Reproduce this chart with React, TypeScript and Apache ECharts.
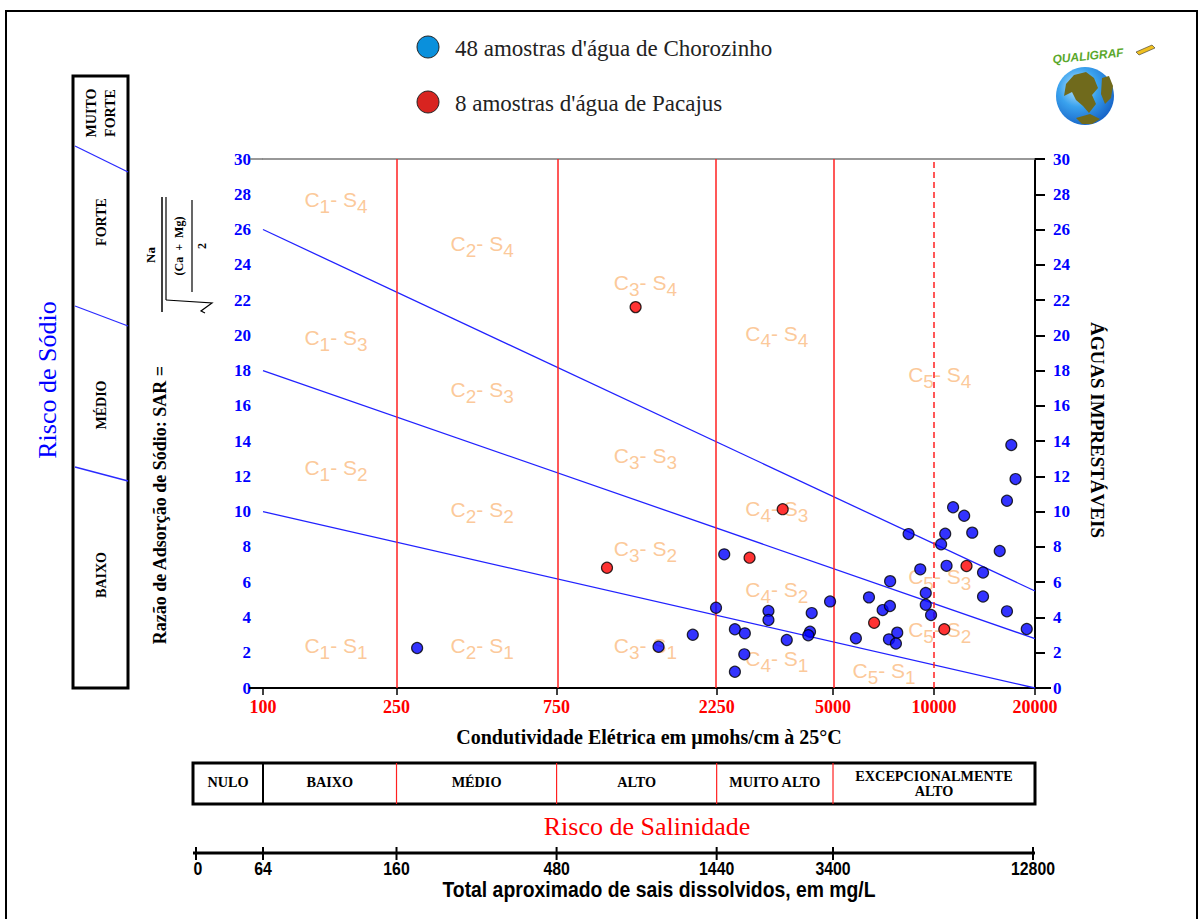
import React, { useEffect, useRef } from "react";
import * as echarts from "echarts";

// ---------- data ----------
const EC_MIN = 100;
const EC_MAX = 20000;
const xTickValues = [100, 250, 750, 2250, 5000, 10000, 20000];
const salinityLimits = [250, 750, 2250, 5000];
const salinityDashed = [10000];

// sodium hazard boundary lines: SAR at EC = 100 and at EC = 20000
const sodiumLineStart = [26, 18, 10];
const sodiumLineEnd = [5.5, 2.8, 0];

const chorozinhoEC = [17000, 17500, 16500, 11400, 12300, 8400, 10800, 13000, 10500, 15700, 10900, 14000, 9100, 7400, 9450, 9450, 9800, 14000, 16500, 18900, 6400, 4900, 4320, 4270, 4220, 3640, 5850, 7030, 7390, 7340, 7770, 7700, 2370, 2240, 2550, 2730, 3210, 3210, 1910, 1510, 2720, 2550, 288];
const chorozinhoSAR = [13.78, 11.85, 10.62, 10.25, 9.77, 8.73, 8.75, 8.81, 8.15, 7.77, 6.93, 6.55, 6.73, 6.06, 5.39, 4.72, 4.14, 5.19, 4.35, 3.35, 5.14, 4.91, 4.25, 3.19, 2.99, 2.72, 2.82, 4.42, 4.65, 2.76, 3.14, 2.52, 7.58, 4.55, 3.33, 3.1, 4.37, 3.86, 3.02, 2.34, 1.91, 0.92, 2.27];

const pacajusEC = [1290, 1060, 2820, 3540, 12500, 6630, 10730];
const pacajusSAR = [21.6, 6.82, 7.39, 10.14, 6.92, 3.7, 3.33];

const zoneC = [1, 2, 3, 4, 5, 1, 2, 3, 4, 5, 1, 2, 3, 4, 5, 1, 2, 3, 4, 5];
const zoneS = [4, 4, 4, 4, 4, 3, 3, 3, 3, 3, 2, 2, 2, 2, 2, 1, 1, 1, 1, 1];
const zoneEC = [165, 450, 1380, 3400, 10400, 165, 450, 1380, 3400, 10400, 165, 450, 1380, 3400, 10400, 165, 450, 1380, 3400, 7100];
const zoneSAR = [27.7, 25.2, 23.0, 20.1, 17.8, 19.9, 16.9, 13.2, 10.2, 6.3, 12.5, 10.1, 7.9, 5.6, 3.3, 2.4, 2.4, 2.4, 1.7, 1.0];

const salinityClasses = ["NULO", "BAIXO", "MÉDIO", "ALTO", "MUITO ALTO", "EXCEPCIONALMENTE\nALTO"];
const tdsLabels = ["0", "64", "160", "480", "1440", "3400", "12800"];
const tdsAtEC = [0, 100, 250, 750, 2250, 5000, 20000];

const legendLabels = ["48 amostras d'água de Chorozinho", "8 amostras d'água de Pacajus"];

const SERIF = "Liberation Serif";
const SANS = "Liberation Sans";
const ORANGE = "#fbbb80";

function txt(text: string, x: number, y: number, o: any = {}) {
  return {
    type: "text",
    x,
    y,
    rotation: o.rot || 0,
    scaleX: o.sx || 1,
    z: 50,
    style: {
      text,
      fill: o.fill || "#000",
      fontSize: o.size || 14,
      fontFamily: o.family || SERIF,
      fontWeight: o.weight || "normal",
      fontStyle: o.style || "normal",
      align: o.align || "center",
      verticalAlign: "middle",
      lineHeight: o.lh || undefined,
    },
  };
}
function ln(x1: number, y1: number, x2: number, y2: number, stroke: string, w: number, dash?: any) {
  return {
    type: "line",
    z: 50,
    shape: { x1, y1, x2, y2 },
    style: { stroke, lineWidth: w, lineDash: dash || null },
  };
}

export default function App() {
  const ref = useRef<HTMLDivElement>(null);
  useEffect(() => {
    if (!ref.current) return;
    const chart = echarts.init(ref.current, null, { renderer: "svg" });
    const lx = (v: number) => Math.log10(v);
    const xMin = lx(EC_MIN);
    const xMax = lx(EC_MAX);

    const lineSeries: any[] = sodiumLineStart.map((s, i) => ({
      type: "line",
      data: [
        [xMin, s],
        [xMax, sodiumLineEnd[i]],
      ],
      symbol: "none",
      lineStyle: { color: "#2222ff", width: 1.3 },
      z: 2,
      silent: true,
    }));
    lineSeries[0].markLine = {
      silent: true,
      symbol: ["none", "none"],
      label: { show: false },
      lineStyle: { color: "#ff2020", width: 1.5, type: "solid" },
      data: salinityLimits.map((v) => ({ xAxis: lx(v) })),
    };
    lineSeries[1].markLine = {
      silent: true,
      symbol: ["none", "none"],
      label: { show: false },
      lineStyle: { color: "#ff2020", width: 1.5, type: [6, 4] },
      data: salinityDashed.map((v) => ({ xAxis: lx(v) })),
    };

    const axisLabelFont = { fontFamily: SERIF, fontWeight: "bold", fontSize: 17 };

    const option: any = {
      animation: false,
      backgroundColor: "#fff",
      grid: { left: 263, right: 167, top: 159, bottom: 231, outerBoundsMode: "none" },
      xAxis: [
        {
          type: "value",
          min: xMin,
          max: xMax,
          position: "bottom",
          splitLine: { show: false },
          axisLine: { show: true, onZero: false, lineStyle: { color: "#000", width: 2 } },
          axisTick: { show: true, length: 7, lineStyle: { color: "#000", width: 1.5 }, customValues: xTickValues.map(lx) },
          axisLabel: {
            ...axisLabelFont,
            fontSize: 18,
            color: "#ff0000",
            margin: 10,
            customValues: xTickValues.map(lx),
            formatter: (v: number) => String(Math.round(Math.pow(10, v))),
          },
          name: "Condutividade Elétrica em µmohs/cm à 25°C",
          nameLocation: "middle",
          nameGap: 39,
          nameTextStyle: { fontFamily: SERIF, fontWeight: "bold", fontSize: 20, color: "#000" },
        },
        {
          type: "value",
          min: xMin,
          max: xMax,
          position: "top",
          splitLine: { show: false },
          axisLine: { show: true, onZero: false, lineStyle: { color: "#777", width: 1.5 } },
          axisTick: { show: false },
          axisLabel: { show: false },
        },
      ],
      yAxis: [
        {
          type: "value",
          min: 0,
          max: 30,
          interval: 2,
          position: "left",
          splitLine: { show: false },
          axisLine: { show: false },
          axisTick: { show: false },
          axisLabel: { ...axisLabelFont, color: "#0000ff", margin: 12 },
        },
        {
          type: "value",
          min: 0,
          max: 30,
          interval: 2,
          position: "right",
          splitLine: { show: false },
          axisLine: { show: true, onZero: false, lineStyle: { color: "#000", width: 2 } },
          axisTick: { show: true, inside: false, length: 10, lineStyle: { color: "#000", width: 2 } },
          axisLabel: { ...axisLabelFont, color: "#0000ff", margin: 18 },
        },
      ],
      series: [
        ...lineSeries,
        {
          type: "scatter",
          z: 1,
          silent: true,
          symbolSize: 1,
          itemStyle: { color: "rgba(0,0,0,0)" },
          data: zoneEC.map((e, i) => [lx(e), zoneSAR[i], zoneC[i], zoneS[i]]),
          label: {
            show: true,
            position: "inside",
            formatter: (p: any) => `{c|C}{s|${p.data[2]}}{c|- S}{s|${p.data[3]}}`,
            rich: {
              c: { fontSize: 21, fontFamily: SANS, color: ORANGE },
              s: { fontSize: 19, fontFamily: SANS, color: ORANGE, padding: [14, 0, 0, 0] },
            },
          },
        },
        {
          type: "scatter",
          name: legendLabels[0],
          z: 5,
          symbolSize: 11,
          itemStyle: { color: "#0000ff", borderColor: "#000", borderWidth: 1.2 },
          data: chorozinhoEC.map((e, i) => [lx(e), chorozinhoSAR[i]]),
        },
        {
          type: "scatter",
          name: legendLabels[1],
          z: 6,
          symbolSize: 11,
          itemStyle: { color: "#ff0000", borderColor: "#000", borderWidth: 1.2 },
          data: pacajusEC.map((e, i) => [lx(e), pacajusSAR[i]]),
        },
      ],
    };
    chart.setOption(option);

    const px = (v: number) => chart.convertToPixel({ xAxisIndex: 0 }, lx(v)) as number;
    const tableL = 193;
    const tableR = px(EC_MAX);
    const bounds = [tableL, px(100), ...salinityLimits.map(px), tableR];

    const g: any[] = [];
    // outer frame
    g.push({ type: "rect", z: 40, shape: { x: 6, y: 11, width: 1191, height: 930 }, style: { fill: "none", stroke: "#000", lineWidth: 2 } });

    // axis line overhangs
    g.push(ln(249, 688, px(EC_MIN), 688, "#000", 2));
    g.push(ln(tableR, 688, tableR + 16, 688, "#000", 2));
    g.push(ln(250, 159, px(EC_MIN), 159, "#777", 1.5));

    // legend
    g.push({ type: "circle", z: 50, shape: { cx: 428, cy: 47, r: 11 }, style: { fill: "#0a90dc", stroke: "#222", lineWidth: 1 } });
    g.push({ type: "circle", z: 50, shape: { cx: 428, cy: 102, r: 11 }, style: { fill: "#d82420", stroke: "#222", lineWidth: 1 } });
    g.push(txt(legendLabels[0], 455, 48, { size: 23, align: "left", fill: "#222" }));
    g.push(txt(legendLabels[1], 455, 103, { size: 23, align: "left", fill: "#222" }));

    // logo
    g.push({
      type: "circle",
      z: 50,
      shape: { cx: 1085, cy: 96, r: 29 },
      style: {
        fill: new echarts.graphic.RadialGradient(0.38, 0.35, 0.75, [
          { offset: 0, color: "#c8ecff" },
          { offset: 0.45, color: "#3aa2ee" },
          { offset: 1, color: "#1058c0" },
        ]),
      },
    });
    g.push({ type: "polygon", z: 51, shape: { points: [[1066, 84], [1074, 75], [1086, 72], [1094, 78], [1098, 88], [1092, 95], [1096, 104], [1089, 113], [1083, 106], [1076, 100], [1072, 92], [1064, 96]] }, style: { fill: "#706a1c" } });
    g.push({ type: "polygon", z: 51, shape: { points: [[1102, 78], [1109, 76], [1113, 86], [1111, 98], [1105, 104], [1101, 94]] }, style: { fill: "#706a1c" } });
    g.push({ type: "polygon", z: 51, shape: { points: [[1076, 118], [1090, 114], [1100, 119], [1092, 124], [1082, 124]] }, style: { fill: "#706a1c" } });
    g.push({ ...txt("QUALIGRAF", 1088, 56, { size: 12, fill: "#5aa82c", style: "italic", weight: "bold", family: SANS }), rotation: 0.1 });
    g.push({ type: "polygon", z: 51, shape: { points: [[1136, 52], [1152, 45], [1155, 48], [1139, 55]] }, style: { fill: "#f0c020", stroke: "#333", lineWidth: 0.6 } });

    // left sodium hazard panel
    g.push({ type: "rect", z: 50, shape: { x: 73, y: 76, width: 55, height: 612 }, style: { fill: "none", stroke: "#000", lineWidth: 3 } });
    g.push(ln(75, 146, 128, 172, "#2a2aff", 1.3));
    g.push(ln(75, 306, 128, 326, "#2a2aff", 1.3));
    g.push(ln(75, 467, 128, 481, "#2a2aff", 1.3));
    g.push(txt("MUITO\nFORTE", 101, 113, { rot: Math.PI / 2, size: 14, weight: "bold", lh: 19 }));
    g.push(txt("FORTE", 101, 222, { rot: Math.PI / 2, size: 14, weight: "bold" }));
    g.push(txt("MÉDIO", 101, 405, { rot: Math.PI / 2, size: 14, weight: "bold" }));
    g.push(txt("BAIXO", 101, 575, { rot: Math.PI / 2, size: 14, weight: "bold" }));
    g.push(txt("Risco de Sódio", 47, 380, { rot: Math.PI / 2, size: 26, fill: "#0000ff" }));

    // SAR label and formula
    g.push(txt("Razão de Adsorção de Sódio: SAR =", 160, 505, { rot: Math.PI / 2, size: 18, weight: "bold" }));
    g.push(txt("Na", 150, 255, { rot: Math.PI / 2, size: 13, weight: "bold" }));
    g.push(ln(162, 197, 162, 312, "#000", 1.5));
    g.push(ln(166, 197, 166, 300, "#000", 1.2));
    g.push(txt("(Ca  +  Mg)", 179, 246, { rot: Math.PI / 2, size: 12, weight: "bold" }));
    g.push(ln(192, 200, 192, 292, "#000", 1.2));
    g.push(txt("2", 202, 246, { rot: Math.PI / 2, size: 12, weight: "bold" }));
    g.push({ type: "polyline", z: 50, shape: { points: [[166, 300], [212, 303], [201, 311], [205, 313]] }, style: { stroke: "#000", lineWidth: 1.2, fill: "none" } });

    // right label
    g.push(txt("ÁGUAS IMPRESTÁVEIS", 1097, 430, { rot: -Math.PI / 2, size: 19, weight: "bold" }));

    // salinity hazard table
    g.push({ type: "rect", z: 50, shape: { x: tableL, y: 763, width: tableR - tableL, height: 41 }, style: { fill: "none", stroke: "#000", lineWidth: 3 } });
    g.push(ln(bounds[1], 763, bounds[1], 804, "#000", 2));
    for (let i = 2; i < bounds.length - 1; i++) g.push(ln(bounds[i], 763, bounds[i], 804, "#ff2020", 1.2));
    salinityClasses.forEach((c, i) => {
      const cx = (bounds[i] + bounds[i + 1]) / 2;
      const multi = c.indexOf("\n") >= 0;
      g.push(txt(c, cx, multi ? 783 : 782, { size: 15, weight: "bold", lh: 15, sx: 0.95 }));
    });
    g.push(txt("Risco de Salinidade", 647, 826, { size: 26, fill: "#ff0000" }));

    // TDS scale
    g.push(ln(tableL, 853, tableR, 853, "#000", 3));
    tdsLabels.forEach((t, i) => {
      const x = i === 0 ? tableL + 3 : i === tdsLabels.length - 1 ? tableR - 2 : px(tdsAtEC[i]);
      g.push(ln(x, 847, x, 860, "#000", 2));
      g.push(txt(t, i === 0 ? x + 2 : x, 869, { size: 18, weight: "bold", family: SANS, sx: 0.88, lh: 14 }));
    });
    g.push(txt("Total aproximado de sais dissolvidos, em mg/L", 659, 889, { size: 22, weight: "bold", family: SANS, sx: 0.88, lh: 16 }));

    chart.setOption({ graphic: g });
    return () => chart.dispose();
  }, []);
  return <div ref={ref} style={{ position: "absolute", left: 0, top: 0, width: 1202, height: 919, background: "#fff" }} />;
}
